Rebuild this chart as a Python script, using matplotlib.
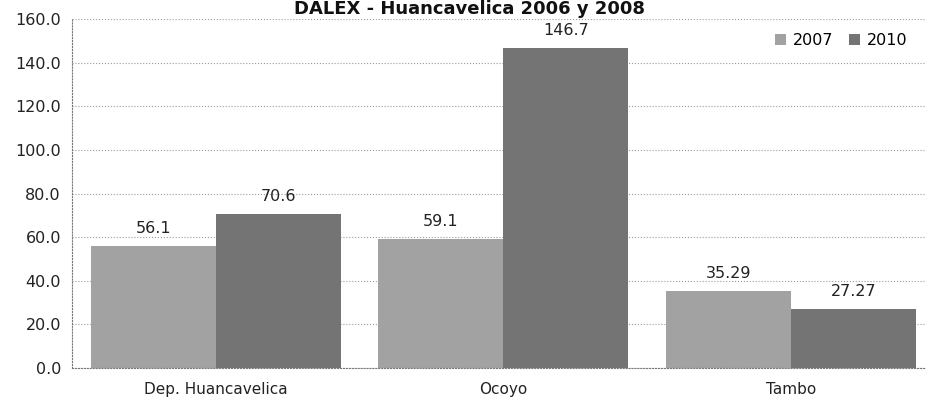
import numpy as np
import matplotlib
matplotlib.use('Agg')
import matplotlib.pyplot as plt

# data
categories = ['Dep. Huancavelica', 'Ocoyo', 'Tambo']
years = ['2007', '2010']
vals2007 = [56.1, 59.1, 35.29]
vals2010 = [70.6, 146.7, 27.27]
lab2007 = ['56.1', '59.1', '35.29']
lab2010 = ['70.6', '146.7', '27.27']
yticks = [0, 20, 40, 60, 80, 100, 120, 140, 160]

col2007 = '#a2a2a2'
col2010 = '#747474'

fig = plt.figure(figsize=(9.26, 4.05), dpi=100)
ax = fig.add_axes([72/926, 37/405, (926-72)/926, (368-19)/405])

x = np.arange(len(categories))
w = 0.435
b1 = ax.bar(x - w/2, vals2007, w, color=col2007, label=years[0], zorder=2)
b2 = ax.bar(x + w/2, vals2010, w, color=col2010, label=years[1], zorder=2)

for bars, labs in [(b1, lab2007), (b2, lab2010)]:
    for r, t in zip(bars, labs):
        ax.annotate(t, (r.get_x() + r.get_width()/2, r.get_height()),
                    xytext=(0, 7), textcoords='offset points',
                    ha='center', va='bottom', fontsize=11.5, color='#222222')

ax.set_xlim(-0.5, 2.47)
ax.set_ylim(0, 160)
ax.set_yticks(yticks)
ax.set_yticklabels(['{:.1f}'.format(v) for v in yticks], fontsize=11.5)
ax.set_xticks(x)
ax.set_xticklabels(categories, fontsize=11)
ax.tick_params(axis='both', length=0, pad=8, colors='#222222')
ax.tick_params(axis='x', pad=10)

ax.grid(axis='y', linestyle=':', color='#9a9a9a', linewidth=0.8, zorder=0)
for s in ['top', 'right']:
    ax.spines[s].set_visible(False)
ax.spines['left'].set_linestyle(':')
ax.spines['left'].set_color('#777777')
ax.spines['bottom'].set_linestyle(':')
ax.spines['bottom'].set_color('#777777')

ax.legend(loc='upper right', bbox_to_anchor=(0.995, 1.0), ncol=2, frameon=False,
          fontsize=11.5, handlelength=0.7, handleheight=0.7, handletextpad=0.4,
          columnspacing=1.0)

fig.text(470/926, (405-14)/405, 'DALEX - Huancavelica 2006 y 2008',
         ha='center', va='baseline', fontsize=13, fontweight='bold', color='#111111')

fig.savefig('out.png', dpi=100)
